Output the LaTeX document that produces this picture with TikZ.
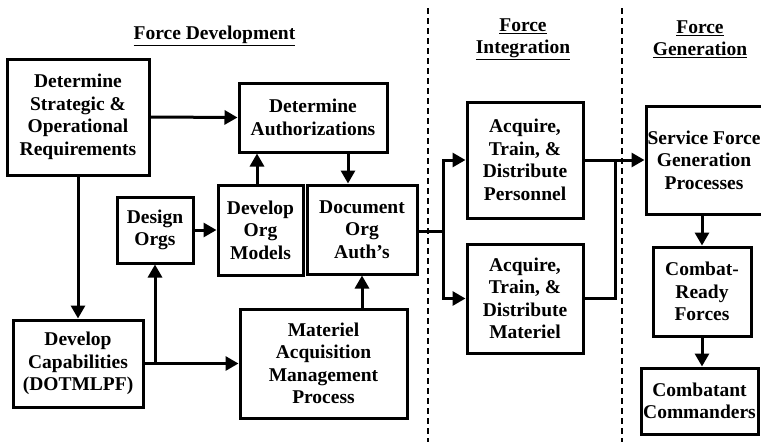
\documentclass[tikz,border=0pt]{standalone}
\usepackage{fontspec}
\setmainfont{Liberation Serif}
\usetikzlibrary{arrows.meta}
\begin{document}
\begin{tikzpicture}[x=1pt,y=-1pt,
  box/.style={draw, line width=3pt, fill=white, align=center, inner sep=0pt,
    font=\fontsize{19.5}{22.5}\selectfont\bfseries},
  head/.style={align=center, inner sep=0pt, font=\fontsize{19.5}{22}\selectfont\bfseries},
  conn/.style={line width=3pt},
  arr/.style={conn, -{Triangle[length=13pt,width=14pt]}},
  divider/.style={line width=2.2pt, dash pattern=on 6pt off 4pt}]
\useasboundingbox (0,0) rectangle (761,445);
\clip (0,0) rectangle (761,445);
\fill[white] (0,0) rectangle (761,445);

% column headings
\node[head] (hdev) at (214.5,36) {\underline{Force Development}};
\node[head] (hint) at (523,39) {\underline{Force}\\\underline{Integration}};
\node[head] (hgen) at (700,39) {\underline{Force}\\\underline{Generation}};

% phase dividers
\coordinate (d1t) at (428,8);  \coordinate (d1b) at (428,442);
\coordinate (d2t) at (622,8);  \coordinate (d2b) at (622,442);
\draw[divider] (d1t) -- (d1b);
\draw[divider] (d2t) -- (d2b);

% force development
\node[box, minimum width=142pt, minimum height=116pt] (dsor) at (78,117)
  {Determine\\Strategic \&\\Operational\\Requirements};
\node[box, minimum width=148pt, minimum height=69pt] (dauth) at (313,117.5)
  {Determine\\Authorizations};
\node[box, minimum width=76pt, minimum height=66pt] (design) at (155,230)
  {Design\\Orgs};
\node[box, minimum width=85pt, minimum height=90pt] (devorg) at (260.5,230)
  {Develop\\Org\\Models};
\node[box, minimum width=110pt, minimum height=89pt] (docorg) at (362,229.5)
  {Document\\Org\\Auth’s};
\node[box, minimum width=130pt, minimum height=87pt] (devcap) at (78,363.5)
  {Develop\\Capabilities\\(DOTMLPF)};
\node[box, minimum width=167pt, minimum height=109pt] (matacq) at (323.5,363.5)
  {Materiel\\Acquisition\\Management\\Process};

% force integration
\node[box, minimum width=116pt, minimum height=116pt] (pers) at (525,160)
  {Acquire,\\Train, \&\\Distribute\\Personnel};
\node[box, minimum width=116pt, minimum height=109pt] (matd) at (525,298.5)
  {Acquire,\\Train, \&\\Distribute\\Materiel};

% force generation
\node[box, minimum width=116pt, minimum height=108pt] (sfg) at (704,160)
  {Service Force\\Generation\\Processes};
\node[box, minimum width=98pt, minimum height=89pt] (crf) at (702,291.5)
  {Combat-\\Ready\\Forces};
\node[box, minimum width=117pt, minimum height=66pt] (ccmd) at (699.5,401)
  {Combatant\\Commanders};

% helper coordinates for offset connectors
\coordinate (xa) at (257,0);
\coordinate (xb) at (348,0);
\coordinate (jdc) at (155,363.5);
\coordinate (jint) at (443,231);
\coordinate (jgen) at (615,160);

% connectors
\draw[arr] (dsor.east) -- (dauth.west);
\draw[arr] (dsor.south) -- (devcap.north);
\draw[arr] (devcap.east) -- (matacq.west);
\draw[arr] (jdc) -- (design.south);
\draw[arr] (design.east) -- (devorg.west);
\draw[arr] (devorg.north -| xa) -- (dauth.south -| xa);
\draw[arr] (dauth.south -| xb) -- (docorg.north -| xb);
\draw[arr] (matacq.north -| docorg.south) -- (docorg.south);
\draw[conn] (docorg.east |- jint) -- (jint);
\draw[arr] (jint) |- (pers.west);
\draw[arr] (jint) |- (matd.west);
\draw[arr] (pers.east) -- (sfg.west);
\draw[conn] (matd.east) -| (jgen);
\draw[arr] (sfg.south -| crf.north) -- (crf.north);
\draw[arr] (crf.south) -- (ccmd.north -| crf.south);
\end{tikzpicture}
\end{document}
